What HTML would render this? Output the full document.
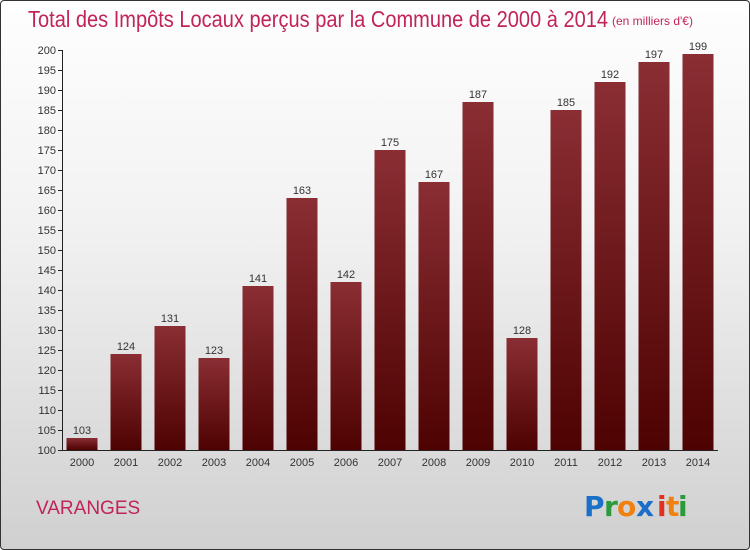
<!DOCTYPE html>
<html><head><meta charset="utf-8"><style>
html,body{margin:0;padding:0}
body{width:750px;height:550px;overflow:hidden;font-family:"Liberation Sans",sans-serif}
#frame{position:absolute;left:0;top:0;width:748px;height:548px;border:1px solid #333;border-radius:4px;background:linear-gradient(#fefefe 0%,#f2f2f2 40%,#d0d0d0 100%);}
</style></head><body>
<div id="frame">
<svg width="750" height="550" style="position:absolute;left:-1px;top:-1px">
<defs><linearGradient id="bg" x1="0" y1="0" x2="0" y2="1"><stop offset="0" stop-color="#8a2e34"/><stop offset="1" stop-color="#4e0202"/></linearGradient></defs>
<text x="28" y="27" font-size="23" fill="#c0245a" font-family="Liberation Sans, sans-serif" textLength="580" lengthAdjust="spacingAndGlyphs">Total des Impôts Locaux perçus par la Commune de 2000 à 2014</text>
<text x="612" y="25" font-size="12" fill="#c0245a">(en milliers d'€)</text>
<g id="axis"></g><g id="bars"></g>
<text x="36" y="514" font-size="19" fill="#c0245a">VARANGES</text>
<g font-size="28" font-weight="bold" font-family="DejaVu Sans, sans-serif">
<text x="584" y="516" fill="#1a6fc9">P</text><text x="604" y="516" fill="#2a9a3a">r</text><text x="617" y="516" fill="#f08010">o</text>
<text x="636" y="516" fill="#1a6fc9">x</text><text x="657" y="516" fill="#e03020">i</text><text x="666" y="516" fill="#f08010">t</text><text x="678" y="516" fill="#2a9a3a">i</text></g>
</svg></div>
<script>
const years=["2000","2001","2002","2003","2004","2005","2006","2007","2008","2009","2010","2011","2012","2013","2014"];
const values=[103,124,131,123,141,163,142,175,167,187,128,185,192,197,199];
const ticks=[100,105,110,115,120,125,130,135,140,145,150,155,160,165,170,175,180,185,190,195,200];
const NS="http://www.w3.org/2000/svg";
const y=v=>450-(v-100)*4, x=i=>82+i*44;
function mk(t,a,p){const e=document.createElementNS(NS,t);for(const k in a)e.setAttribute(k,a[k]);p.appendChild(e);return e;}
const ax=document.getElementById('axis'),bg=document.getElementById('bars');
const al=mk('line',{x1:62.5,y1:50,x2:62.5,y2:450,stroke:'#222'},ax);


const bl=mk('line',{x1:62,y1:450.5,x2:718,y2:450.5,stroke:'#222'},ax);


ticks.forEach(t=>{mk('line',{x1:58,x2:62,y1:y(t)+.5,y2:y(t)+.5,stroke:'#222'},ax);
const tx=mk('text',{x:56,y:y(t)+4,'font-size':11,'text-anchor':'end',fill:'#333'},ax);tx.textContent=t;

});
years.forEach((yr,i)=>{const v=values[i];
const r=mk('rect',{x:x(i)-15.5,y:y(v),width:31,height:450-y(v),fill:'url(#bg)'},bg);


const lt=mk('text',{x:x(i),y:y(v)-4,'font-size':11,'text-anchor':'middle',fill:'#333'},bg);lt.textContent=v;


const xt=mk('text',{x:x(i),y:466,'font-size':11,'text-anchor':'middle',fill:'#333'},bg);xt.textContent=yr;

});
</script>
</body></html>
